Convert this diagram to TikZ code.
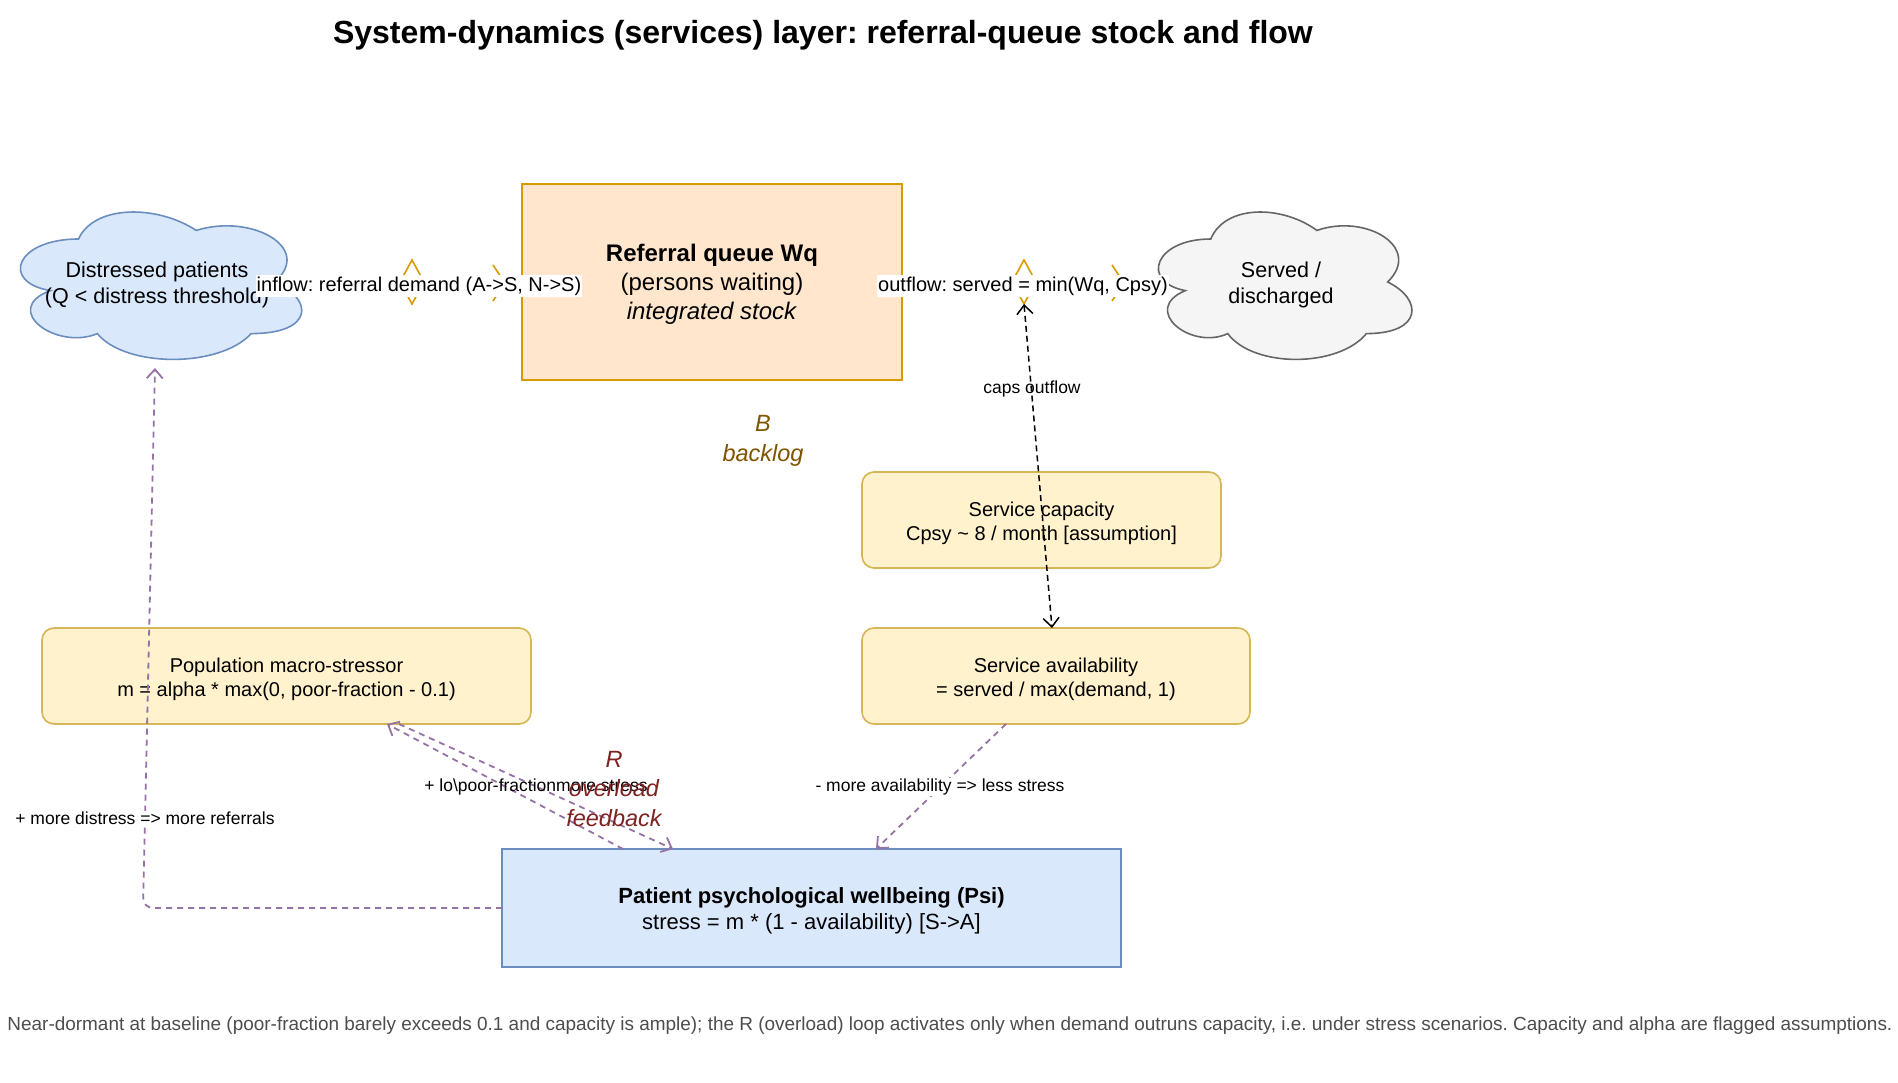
\documentclass[tikz,border=0pt]{standalone}
\usepackage{fontspec}
\setmainfont{Liberation Sans}
\usetikzlibrary{shapes.geometric,arrows.meta,calc}
\frenchspacing
\definecolor{qfill}{HTML}{FFE6CC}
\definecolor{qline}{HTML}{D79B00}
\definecolor{yfill}{HTML}{FFF2CC}
\definecolor{yline}{HTML}{D6B656}
\definecolor{bfill}{HTML}{DAE8FC}
\definecolor{bline}{HTML}{6C8EBF}
\definecolor{gfill}{HTML}{F5F5F5}
\definecolor{gline}{HTML}{666666}
\definecolor{purp}{HTML}{9673A6}
\definecolor{bcol}{HTML}{7F5500}
\definecolor{rcol}{HTML}{7F2222}
\definecolor{foot}{HTML}{4D4D4D}
\newcommand{\myfs}[2]{\fontsize{#1}{#2}\selectfont}
\newcommand{\mxcloud}[5]{%
  \draw[#5] ({#1+0.25*#3},{#2+0.25*#4})
    .. controls ({#1+0.05*#3},{#2+0.25*#4}) and ({#1},{#2+0.5*#4}) .. ({#1+0.16*#3},{#2+0.55*#4})
    .. controls ({#1},{#2+0.66*#4}) and ({#1+0.18*#3},{#2+0.9*#4}) .. ({#1+0.31*#3},{#2+0.8*#4})
    .. controls ({#1+0.4*#3},{#2+#4}) and ({#1+0.7*#3},{#2+#4}) .. ({#1+0.8*#3},{#2+0.8*#4})
    .. controls ({#1+#3},{#2+0.8*#4}) and ({#1+#3},{#2+0.6*#4}) .. ({#1+0.875*#3},{#2+0.5*#4})
    .. controls ({#1+#3},{#2+0.3*#4}) and ({#1+0.8*#3},{#2+0.1*#4}) .. ({#1+0.625*#3},{#2+0.2*#4})
    .. controls ({#1+0.5*#3},{#2+0.05*#4}) and ({#1+0.3*#3},{#2+0.05*#4}) .. ({#1+0.25*#3},{#2+0.25*#4})
    -- cycle;}
\begin{document}
\begin{tikzpicture}[x=1pt,y=-1pt,
  every node/.style={inner sep=0pt, outer sep=0pt},
  qbox/.style={draw=qline, fill=qfill, line width=1.6pt, minimum width=380pt, minimum height=196pt},
  ybox/.style={draw=yline, fill=yfill, line width=1.6pt, rounded corners=12pt, minimum height=96pt},
  pbox/.style={draw=bline, fill=bfill, line width=1.6pt, minimum width=619pt, minimum height=118pt},
  ytext/.style={align=center, font=\myfs{20}{24}},
  cloudtext/.style={align=center, font=\myfs{21.5}{25.5}},
  valve/.style={diamond, draw=qline, line width=1.6pt, minimum width=24pt, minimum height=44pt, inner sep=0pt},
  flowlabel/.style={fill=white, font=\myfs{20}{24}, inner xsep=1pt, inner ysep=1.5pt},
  elabel/.style={font=\myfs{17.5}{21}, inner sep=1pt},
  looplabel/.style={align=center, font=\itshape\myfs{23.5}{29.5}},
  pedge/.style={draw=purp, line width=1.8pt, dash pattern=on 6pt off 5pt, -{Straight Barb[length=9pt,width=16pt]}},
  cedge/.style={draw=black, line width=1.5pt, dash pattern=on 6pt off 4pt, {Straight Barb[length=9pt,width=16pt]}-{Straight Barb[length=9pt,width=16pt]}}
]
\fill[white] (0,0) rectangle (1898,1082);
\useasboundingbox (0,0) rectangle (1898,1082);

% title
\node[font=\bfseries\myfs{32}{38}] (title) at (823,35) {System-dynamics (services) layer: referral-queue stock and flow};

% clouds
\mxcloud{0}{196}{314}{172}{draw=bline, fill=bfill, line width=1.6pt}
\node[cloudtext] (src) at (157,285) {Distressed patients\\(Q < distress threshold)};
\mxcloud{1140}{196}{283}{172}{draw=gline, fill=gfill, line width=1.6pt}
\node[cloudtext] (sink) at (1281,285) {Served /\\discharged};

% stock
\node[qbox] (queue) at (712,282) {};
\node[align=center, font=\myfs{24}{29}] (queueT) at ([yshift=-2.5pt]queue.center) {\textbf{Referral queue Wq}\\(persons waiting)\\\textit{integrated stock}};

% auxiliaries
\node[ybox, minimum width=359pt] (cap) at (1041.5,520) {};
\node[ytext] (capT) at ([yshift=-3pt]cap.center) {Service capacity\\Cpsy \textasciitilde{} 8 / month [assumption]};
\node[ybox, minimum width=388pt] (avail) at (1056,676) {};
\node[ytext] (availT) at ([yshift=-3pt]avail.center) {Service availability\\= served / max(demand, 1)};
\node[ybox, minimum width=489pt] (pop) at (286.5,676) {};
\node[ytext] (popT) at ([yshift=-3pt]pop.center) {Population macro-stressor\\m = alpha * max(0, poor-fraction - 0.1)};
\node[pbox] (pat) at (811.5,908) {};
\node[align=center, font=\myfs{22}{26}] (patT) at ([yshift=-3pt]pat.center) {\textbf{Patient psychological wellbeing (Psi)}\\stress = m * (1 - availability) [S->A]};

% loop labels
\node[looplabel, text=bcol] (bloop) at (763,441) {B\\backlog};

% valves and flow tips
\node[valve] (vin) at (412,282) {};
\node[valve] (vout) at (1024,282) {};
\draw[qline, line width=1.6pt] (493,265) -- (505,283) -- (493,301);
\draw[qline, line width=1.6pt] (1112,265) -- (1124,283) -- (1112,301);
\node[flowlabel] (inl) at (419,286) {inflow: referral demand (A->S, N->S)};
\node[flowlabel] (outl) at (1023,286) {outflow: served = min(Wq, Cpsy)};

% connectors
\coordinate (k1) at (143,908);
\coordinate (k2) at (155,368);
\draw[pedge, rounded corners=10pt] (pat.west) -- (k1) -- (k2);
\node[elabel, fill=white] (l1) at (145,818) {+ more distress => more referrals};

\draw[pedge] ($(pat.north west)+(121,0)$) -- ($(pop.south west)+(345,0)$);
\draw[pedge] ($(pop.south west)+(357,0)$) -- ($(pat.north west)+(171,0)$);
\node[elabel] (l2) at (536,787) {+ lo\textbackslash poor-fractionmore stress};

\draw[pedge] ($(avail.south west)+(144,0)$) -- ($(pat.north west)+(374,0)$);
\node[elabel, fill=white] (l3) at (940,787) {- more availability => less stress};

\draw[cedge] (vout.south) -- ($(avail.north west)+(190,0)$);
\node[elabel] (l4) at (1032,389) {caps outflow};

\node[looplabel, text=rcol] (rloop) at (614,789) {R\\overload\\feedback};

% footnote
\node[font=\myfs{18.95}{23}, text=foot] (note) at (950,1026) {Near-dormant at baseline (poor-fraction barely exceeds 0.1 and capacity is ample); the R (overload) loop activates only when demand outruns capacity, i.e. under stress scenarios. Capacity and alpha are flagged assumptions.};
\end{tikzpicture}
\end{document}
